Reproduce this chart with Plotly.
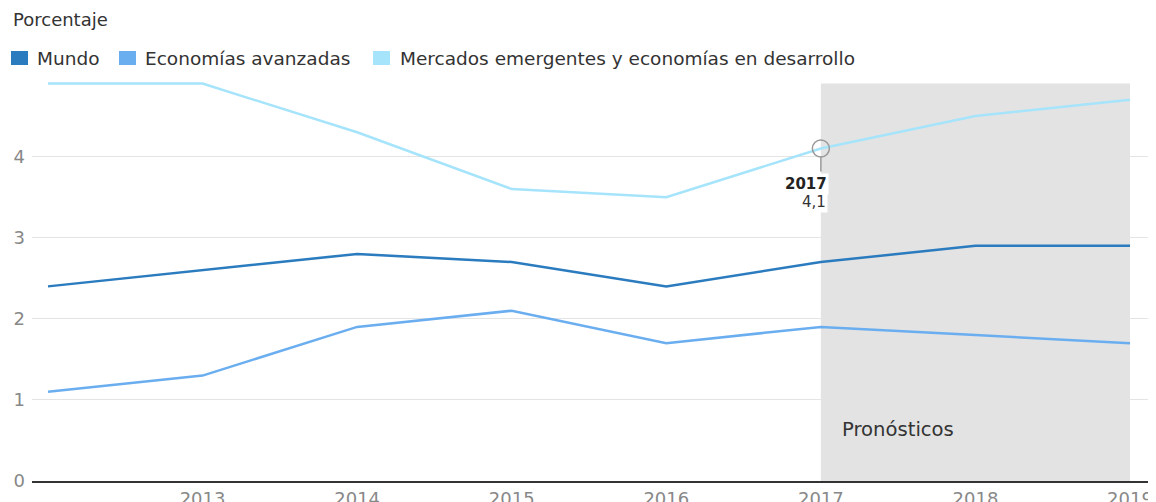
import plotly.graph_objects as go

# ---- data ----
years = [2012, 2013, 2014, 2015, 2016, 2017, 2018, 2019]
mundo = [2.4, 2.6, 2.8, 2.7, 2.4, 2.7, 2.9, 2.9]
avanzadas = [1.1, 1.3, 1.9, 2.1, 1.7, 1.9, 1.8, 1.7]
emergentes = [4.9, 4.9, 4.3, 3.6, 3.5, 4.1, 4.5, 4.7]
series_names = ["Mundo", "Economías avanzadas", "Mercados emergentes y economías en desarrollo"]
colors = ["#2b7bbf", "#6aaef0", "#a6e4fb"]
tick_years = [2013, 2014, 2015, 2016, 2017, 2018, 2019]
y_ticks = [0, 1, 2, 3, 4]
forecast_start, forecast_end = 2017, 2019
hover_year = 2017

# page body has an 8px margin: the figure is drawn 8px right/down of the page origin
OFF = 8
PAGE_W, PAGE_H = 1156, 502
W, H = PAGE_W - OFF, PAGE_H - OFF
# plot area in page pixels: x 32..1148, y 82..481
ML, MR, MT, MB = 32 - OFF, PAGE_W - 1148, 82 - OFF, PAGE_H - 481
PW, PH = W - ML - MR, H - MT - MB
FONT = "DejaVu Sans"


def px(x):  # page pixel -> paper x
    return (x - OFF - ML) / PW


def py(y):  # page pixel -> paper y
    return (H - MB - (y - OFF)) / PH


fig = go.Figure()
for name, vals, col in zip(series_names, [mundo, avanzadas, emergentes], colors):
    fig.add_trace(go.Scatter(x=years, y=vals, name=name, mode="lines",
                             line=dict(color=col, width=2.5), showlegend=False,
                             hoverinfo="skip"))

hv = emergentes[years.index(hover_year)]
fig.add_trace(go.Scatter(x=[hover_year], y=[hv], mode="markers", showlegend=False,
                         marker=dict(symbol="circle-open", size=17, color="#9a9a9a",
                                     line=dict(color="#9a9a9a", width=1.5)),
                         hoverinfo="skip"))

shapes = [
    dict(type="rect", xref="x", yref="y", x0=forecast_start, x1=forecast_end,
         y0=0, y1=4.9, fillcolor="#e3e3e3", line=dict(width=0), layer="below"),
    dict(type="line", xref="x", yref="y", xsizemode="scaled", ysizemode="pixel",
         yanchor=hv, x0=hover_year, x1=hover_year, y0=-8, y1=-23,
         line=dict(color="#9a9a9a", width=1.5)),
]

annotations = [
    dict(text="Porcentaje", xref="paper", yref="paper", x=px(11), y=py(20),
         xanchor="left", yanchor="middle", showarrow=False,
         font=dict(family=FONT, size=18, color="#333333")),
    dict(text="Pronósticos", xref="x", yref="y", x=forecast_start, y=0.63, xshift=19,
         xanchor="left", yanchor="middle", showarrow=False,
         font=dict(family=FONT, size=19.6, color="#333333")),
    dict(text="<b>%d</b>" % hover_year, xref="x", yref="y", x=hover_year, y=hv,
         xshift=8, yshift=-35, xanchor="right", yanchor="middle", showarrow=False,
         bgcolor="white", borderpad=1,
         font=dict(family=FONT, size=15, color="#222222")),
    dict(text=("%.1f" % hv).replace(".", ","), xref="x", yref="y", x=hover_year, y=hv,
         xshift=7, yshift=-53, xanchor="right", yanchor="middle", showarrow=False,
         bgcolor="white", borderpad=1,
         font=dict(family=FONT, size=15, color="#333333")),
]

# manual legend (square swatches)
legend_pos = [(11, 35), (119, 143), (373, 398)]
for (sx, tx), name, col in zip(legend_pos, series_names, colors):
    shapes.append(dict(type="rect", xref="paper", yref="paper",
                       x0=px(sx), x1=px(sx + 17), y0=py(65), y1=py(51),
                       fillcolor=col, line=dict(width=0)))
    annotations.append(dict(text=name, xref="paper", yref="paper", x=px(tx), y=py(58),
                            xanchor="left", yanchor="middle", showarrow=False,
                            font=dict(family=FONT, size=18.5, color="#333333")))

fig.update_layout(
    width=W, height=H,
    margin=dict(l=ML, r=MR, t=MT, b=MB, pad=0, autoexpand=False),
    paper_bgcolor="white", plot_bgcolor="rgba(0,0,0,0)",
    font=dict(family=FONT, size=18, color="#888888"),
    shapes=shapes, annotations=annotations,
    xaxis=dict(range=[2012 - 16 / 154.6, 2019 + 18 / 154.6], tickvals=tick_years,
               ticktext=[str(t) for t in tick_years], showgrid=False, zeroline=False,
               showline=True, linecolor="#333333", linewidth=2, ticks="",
               automargin=False,
               tickfont=dict(family=FONT, size=18, color="#888888")),
    yaxis=dict(range=[0, 4.92], tickvals=y_ticks, showgrid=True, gridcolor="#e4e4e4",
               gridwidth=1, zeroline=False, ticks="", ticklabelstandoff=6,
               automargin=False,
               tickfont=dict(family=FONT, size=18, color="#888888")),
    showlegend=False,
)

fig.write_html("out.html")
